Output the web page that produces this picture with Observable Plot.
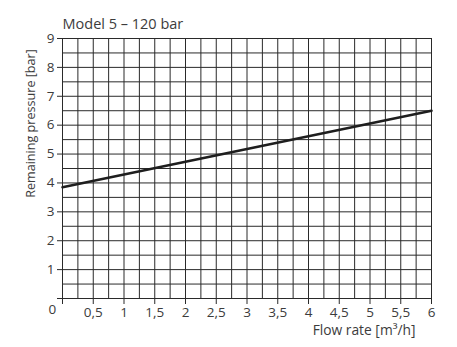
<!DOCTYPE html>
<html>
<head>
<meta charset="utf-8">
<script src="https://cdn.jsdelivr.net/npm/d3@7"></script>
<script src="https://cdn.jsdelivr.net/npm/@observablehq/plot@0.6"></script>
<style>
  html, body { margin: 0; padding: 0; background: #fff; }
</style>
</head>
<body>
<div id="chart"></div>
<script>
const title = "Model 5 – 120 bar";
const xLabel = "Flow rate [m³/h]";
const yLabel = "Remaining pressure [bar]";
const flow = [0, 6];
const pressure = [3.85, 6.5];
const xTicks = [0, 0.5, 1, 1.5, 2, 2.5, 3, 3.5, 4, 4.5, 5, 5.5, 6];
const xGrid = [0, 0.25, 0.5, 0.75, 1, 1.25, 1.5, 1.75, 2, 2.25, 2.5, 2.75, 3, 3.25, 3.5, 3.75, 4, 4.25, 4.5, 4.75, 5, 5.25, 5.5, 5.75, 6];
const yTicks = [0, 1, 2, 3, 4, 5, 6, 7, 8, 9];
const yGrid = [0, 0.5, 1, 1.5, 2, 2.5, 3, 3.5, 4, 4.5, 5, 5.5, 6, 6.5, 7, 7.5, 8, 8.5, 9];

const lineData = flow.map((x, i) => ({x, y: pressure[i]}));
const fmt = d => d === 0 ? "" : String(d).replace(".", ",");
const textColor = "#3c3c3c";
const font = "'Open Sans', Lato, sans-serif";

const chart = Plot.plot({
  width: 457,
  height: 347,
  marginLeft: 62,
  marginRight: 26,
  marginTop: 38,
  marginBottom: 49,
  style: {fontFamily: font, color: textColor, fontSize: "13.5px", background: "#fff"},
  x: {domain: [0, 6]},
  y: {domain: [0, 9]},
  marks: [
    Plot.ruleX(xGrid, {y1: 0, y2: 9, stroke: "#2a2a2a", strokeWidth: 1}),
    Plot.ruleY(yGrid, {x1: 0, x2: 6, stroke: "#2a2a2a", strokeWidth: 1}),
    Plot.axisX({ticks: xTicks, tickFormat: fmt, tickSize: 6, tickPadding: 3, label: null, stroke: "#2a2a2a", fill: textColor, fontSize: 13.5}),
    Plot.axisY({ticks: yTicks, tickFormat: fmt, tickSize: 5, tickPadding: 3, label: null, stroke: "#2a2a2a", fill: textColor, fontSize: 13.5}),
    Plot.line(lineData, {x: "x", y: "y", stroke: "#1e1e1e", strokeWidth: 2.6}),
    Plot.text([title], {frameAnchor: "top-left", text: d => d, dy: -20, dx: 0, textAnchor: "start", fontSize: 14.5, fill: textColor}),
    Plot.text([xLabel], {frameAnchor: "bottom-right", text: d => d, dy: 36, dx: -16, textAnchor: "end", fontSize: 13.8, fill: textColor}),
    Plot.text([yLabel], {frameAnchor: "top-left", text: d => d, dx: -36, dy: 85, rotate: -90, textAnchor: "middle", fontSize: 12.6, fill: textColor}),
    Plot.text(["0"], {frameAnchor: "bottom-left", text: d => d, dx: -14, dy: 15, fontSize: 13.5, fill: textColor})
  ]
});
document.getElementById("chart").appendChild(chart);
</script>
</body>
</html>
